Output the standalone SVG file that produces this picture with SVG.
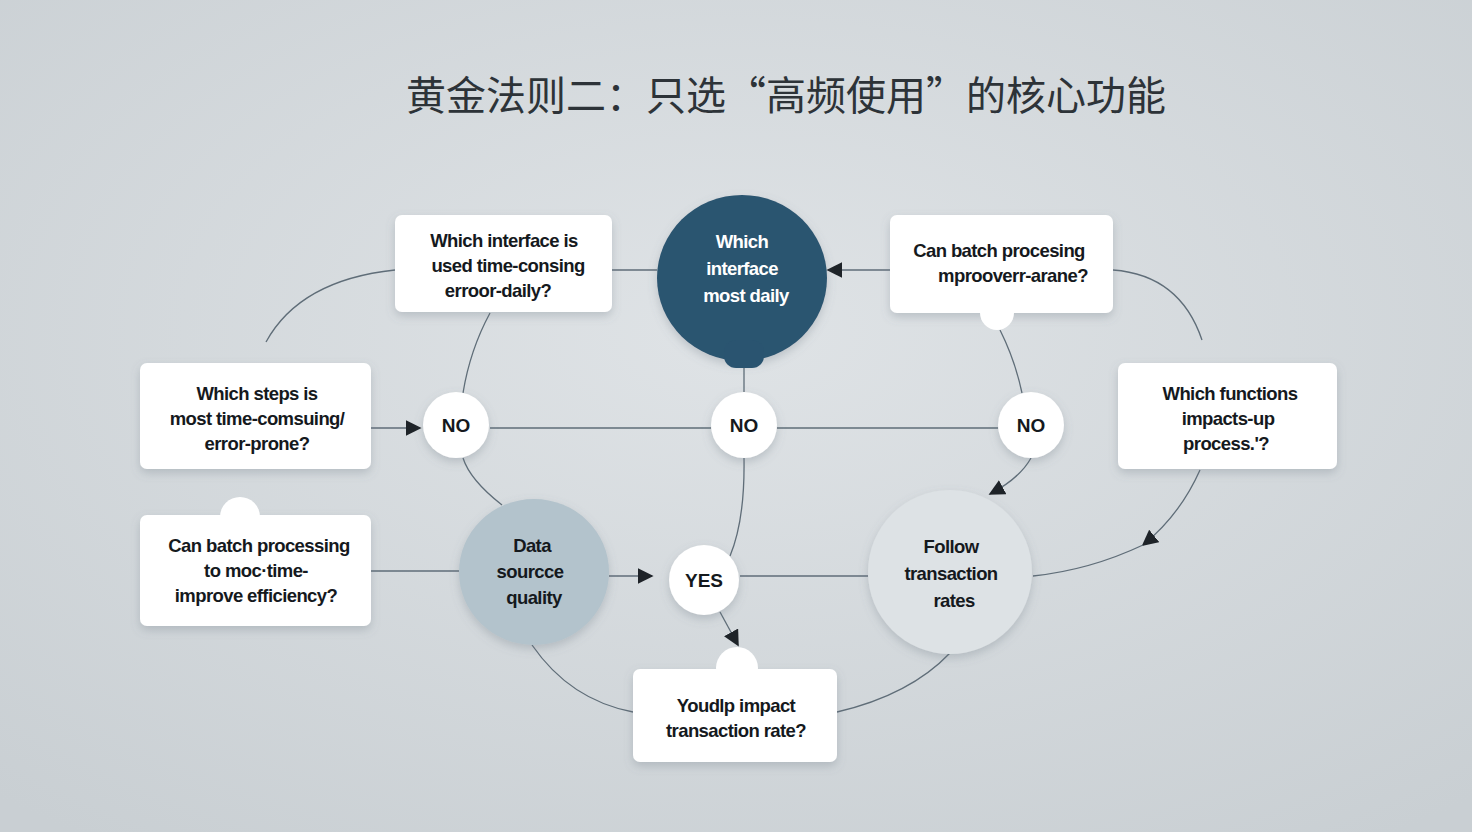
<svg xmlns="http://www.w3.org/2000/svg" width="1472" height="832" viewBox="0 0 1472 832">
<defs>
<radialGradient id="bg" cx="50%" cy="40%" r="75%"><stop offset="0" stop-color="#dfe3e6"/><stop offset="1" stop-color="#c9cfd3"/></radialGradient>
<filter id="sh" x="-20%" y="-20%" width="140%" height="150%"><feDropShadow dx="0" dy="4" stdDeviation="5" flood-color="#6a7680" flood-opacity="0.3"/></filter>
<marker id="ar" viewBox="0 0 10 10" refX="9" refY="5" markerWidth="16" markerHeight="16" orient="auto" markerUnits="userSpaceOnUse"><path d="M0,0 L10,5 L0,10 z" fill="#1e2328"/></marker>
<style>
.box{fill:#fff;filter:url(#sh)}
.t{font-family:"Liberation Sans",Arial,sans-serif;font-weight:bold;font-size:18.5px;fill:#15191d;text-anchor:middle;letter-spacing:-0.6px}
.tb{font-family:"Liberation Sans","Noto Sans",Arial,sans-serif;font-weight:bold;font-size:19px;fill:#15191d;text-anchor:middle}
.c{fill:none;stroke:#5f6d78;stroke-width:1.3}
</style>
</defs>
<rect width="1472" height="832" fill="url(#bg)"/>
<text x="786" y="110" font-family="'Noto Sans CJK SC','Noto Sans',sans-serif" font-size="40" fill="#2d3338" text-anchor="middle">黄金法则二：只选“高频使用”的核心功能</text>
<g id="connectors">
<path class="c" d="M370,428 L420,428" marker-end="url(#ar)"/>
<path class="c" d="M490,428 L711,428 M777,428 L998,428"/>
<path class="c" d="M612,270 L657,270"/>
<path class="c" d="M890,270 L828,270" marker-end="url(#ar)"/>
<path class="c" d="M395,270 Q300,280 266,342"/>
<path class="c" d="M1113,270 Q1180,275 1202,340"/>
<path class="c" d="M490,313 Q470,350 463,393"/>
<path class="c" d="M463,458 Q470,480 502,505"/>
<path class="c" d="M744,367 L744,392"/>
<path class="c" d="M744,458 Q745,520 730,556"/>
<path class="c" d="M1000,330 Q1015,360 1022,393"/>
<path class="c" d="M1031,458 Q1020,478 990,494" marker-end="url(#ar)"/>
<path class="c" d="M1200,470 Q1180,515 1143,545" marker-end="url(#ar)"/>
<path class="c" d="M1143,545 Q1090,570 1033,576"/>
<path class="c" d="M370,571 L459,571"/>
<path class="c" d="M609,576 L652,576" marker-end="url(#ar)"/>
<path class="c" d="M740,576 L868,576"/>
<path class="c" d="M720,612 L738,645" marker-end="url(#ar)"/>
<path class="c" d="M532,645 Q570,700 633,712"/>
<path class="c" d="M950,653 Q910,695 837,712"/>
</g>
<g id="boxA"><rect class="box" x="395" y="215" width="217" height="97" rx="7"/>
<text class="t" x="504" y="247">Which interface is</text><text class="t" x="508" y="272">used time-consing</text><text class="t" x="498" y="297">erroor-daily?</text></g>
<g id="dark"><ellipse cx="742" cy="278" rx="85" ry="83" fill="#2a5470" filter="url(#sh)"/><rect x="724" y="340" width="40" height="28" rx="12" fill="#2a5470"/>
<text class="t" x="742" y="248" style="fill:#fff">Which</text><text class="t" x="742" y="275" style="fill:#fff">interface</text><text class="t" x="746" y="302" style="fill:#fff">most daily</text></g>
<g id="boxB"><rect class="box" x="890" y="215" width="223" height="98" rx="7"/><circle cx="997" cy="313" r="17" fill="#fff"/>
<text class="t" x="999" y="257">Can batch procesing</text><text class="t" x="1013" y="282">mprooverr-arane?</text></g>
<g id="boxC"><rect class="box" x="140" y="363" width="231" height="106" rx="7"/>
<text class="t" x="257" y="400">Which steps is</text><text class="t" x="257" y="425">most time-comsuing/</text><text class="t" x="257" y="450">error-prone?</text></g>
<g id="boxD"><rect class="box" x="1118" y="363" width="219" height="106" rx="7"/>
<text class="t" x="1230" y="400">Which functions</text><text class="t" x="1228" y="425">impacts-up</text><text class="t" x="1226" y="450">process.'?</text></g>
<g id="boxE"><rect class="box" x="140" y="515" width="231" height="111" rx="7"/><circle cx="240" cy="517" r="20" fill="#fff"/>
<text class="t" x="259" y="552">Can batch processing</text><text class="t" x="256" y="577">to moc·time-</text><text class="t" x="256" y="602">improve efficiency?</text></g>
<g id="no1"><circle cx="456" cy="425" r="33" fill="#fff" filter="url(#sh)"/><text class="tb" x="456" y="432">NO</text></g>
<g id="no2"><circle cx="744" cy="425" r="33" fill="#fff" filter="url(#sh)"/><text class="tb" x="744" y="432">NO</text></g>
<g id="no3"><circle cx="1031" cy="425" r="33" fill="#fff" filter="url(#sh)"/><text class="tb" x="1031" y="432">NO</text></g>
<g id="data"><ellipse cx="534" cy="572" rx="75" ry="73" fill="#b3c3cc" filter="url(#sh)"/>
<text class="t" x="532" y="552">Data</text><text class="t" x="530" y="578">sourcce</text><text class="t" x="534" y="604">quality</text></g>
<g id="yes"><circle cx="704" cy="580" r="35" fill="#fff" filter="url(#sh)"/><text class="tb" x="704" y="587">YES</text></g>
<g id="follow"><circle cx="950" cy="572" r="82" fill="#dde2e5" filter="url(#sh)"/>
<text class="t" x="951" y="553">Follow</text><text class="t" x="951" y="580">transaction</text><text class="t" x="954" y="607">rates</text></g>
<g id="boxF"><rect class="box" x="633" y="669" width="204" height="93" rx="7"/><circle cx="737" cy="668" r="21" fill="#fff"/>
<text class="t" x="736" y="712">Youdlp impact</text><text class="t" x="736" y="737">transaction rate?</text></g>
</svg>
